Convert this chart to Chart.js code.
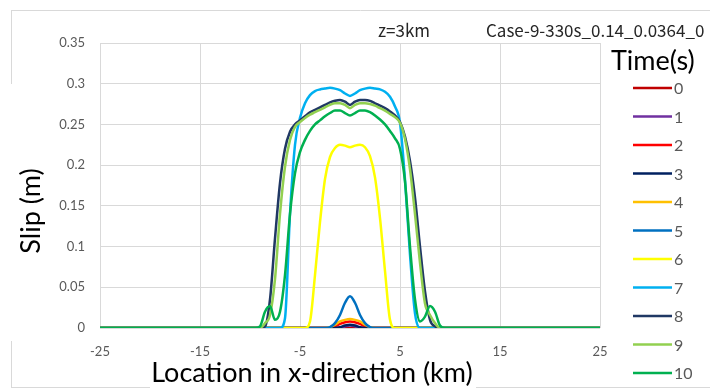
<!DOCTYPE html>
<html>
<head>
<meta charset="utf-8">
<script src="https://cdn.jsdelivr.net/npm/chart.js@4"></script>
<style>
body{margin:0;background:#fff;}
canvas{display:block;}
</style>
</head>
<body>
<canvas id="slipChart" width="710" height="391"></canvas>
<script>
// x positions (km) shared by all series
const xKm=[-25,-10,-9.5,-9,-8.5, -8,-7.5,-7,-6.5,-6, -5.5,-5,-4.5,-4,-3.5, -3,-2.5,-2,-1.5,-1, -0.5,0,0.5,1,1.5, 2,2.5,3,3.5,4, 4.5,5,5.5,6,6.5, 7,7.5,8,8.5,9, 9.5,10,25];

const xTicks=[-25,-15,-5,5,15,25];
const timeLabels=['0','1','2','3','4','5','6','7','8','9','10'];
const lineColors=['#C00000','#7030A0','#FF0000','#002060','#FFC000','#0070C0','#FFFF00','#00B0F0','#203864','#92D050','#00B050'];

// slip (m) per time step
const slip0=[0,0,0,0,0, 0,0,0,0,0, 0,0,0,0,0, 0,0,0,0,0, 0,0,0,0,0, 0,0,0,0,0, 0,0,0,0,0, 0,0,0,0,0, 0,0,0];
const slip1=[0,0,0,0,0, 0,0,0,0,0, 0,0,0,0,0, 0,0,0,0,0, 0.002,0.003,0.002,0,0, 0,0,0,0,0, 0,0,0,0,0, 0,0,0,0,0, 0,0,0];
const slip2=[0,0,0,0,0, 0,0,0,0,0, 0,0,0,0,0, 0,0,0,0.002,0.005, 0.007,0.008,0.007,0.005,0.002, 0,0,0,0,0, 0,0,0,0,0, 0,0,0,0,0, 0,0,0];
const slip3=[0,0,0,0,0, 0,0,0,0,0, 0,0,0,0,0, 0,0,0,0,0.001, 0.003,0.004,0.003,0.001,0, 0,0,0,0,0, 0,0,0,0,0, 0,0,0,0,0, 0,0,0];
const slip4=[0,0,0,0,0, 0,0,0,0,0, 0,0,0,0,0, 0,0,0.001,0.004,0.008, 0.010,0.011,0.010,0.008,0.004, 0.001,0,0,0,0, 0,0,0,0,0, 0,0,0,0,0, 0,0,0];
const slip5=[0,0,0,0,0, 0,0,0,0,0, 0,0,0,0,0, 0,0,0.001,0.006,0.016, 0.031,0.039,0.031,0.016,0.006, 0.001,0,0,0,0, 0,0,0,0,0, 0,0,0,0,0, 0,0,0];
const slip6=[0,0,0,0,0, 0,0,0,0,0, 0,0,0,0.008,0.065, 0.13,0.183,0.21,0.221,0.225, 0.224,0.222,0.224,0.225,0.222, 0.211,0.185,0.135,0.07,0.01, 0,0,0,0,0, 0,0,0,0,0, 0,0,0];
const slip7=[0,0,0,0,0, 0,0,0,0.012,0.14, 0.225,0.258,0.276,0.286,0.291, 0.293,0.294,0.295,0.294,0.292, 0.288,0.285,0.288,0.292,0.294, 0.295,0.294,0.293,0.29,0.284, 0.272,0.252,0.182,0.09,0.018, 0,0,0,0,0, 0,0,0];
const slip8=[0,0,0,0,0.002, 0.035,0.11,0.178,0.22,0.241, 0.25,0.255,0.26,0.265,0.268, 0.271,0.274,0.277,0.279,0.28, 0.278,0.274,0.278,0.28,0.28, 0.279,0.276,0.273,0.27,0.266, 0.261,0.253,0.235,0.205,0.16, 0.1,0.045,0.01,0.002,0, 0,0,0];
const slip9=[0,0,0,0,0.006, 0.016,0.06,0.14,0.198,0.231, 0.247,0.253,0.258,0.262,0.265, 0.268,0.271,0.274,0.276,0.276, 0.274,0.27,0.274,0.276,0.276, 0.275,0.273,0.27,0.267,0.263, 0.259,0.252,0.232,0.195,0.14, 0.08,0.03,0.016,0.006,0, 0,0,0];
const slip10=[0,0,0,0.002,0.02, 0.027,0.01,0.02,0.065,0.14, 0.19,0.216,0.231,0.242,0.25, 0.255,0.26,0.264,0.267,0.267, 0.264,0.261,0.264,0.267,0.267, 0.265,0.261,0.256,0.25,0.242, 0.233,0.22,0.18,0.1,0.035, 0.008,0.014,0.027,0.02,0.003, 0,0,0];

const allSlip=[slip0,slip1,slip2,slip3,slip4,slip5,slip6,slip7,slip8,slip9,slip10];

const datasets=allSlip.map((vals,i)=>({
label:timeLabels[i],
data:vals.map((v,j)=>({x:xKm[j],y:v})),
borderColor:lineColors[i],
backgroundColor:lineColors[i],
borderWidth:2.5,
pointRadius:0,
fill:false,
cubicInterpolationMode:'monotone',
order:10-i
}));

const FONT='Lato, "Noto Sans", sans-serif';

// faint outer frame, titles, header text and legend
const extrasPlugin={
id:'extras',
beforeDraw(chart){
const c=chart.ctx;
c.save();
c.strokeStyle='#d9d9d9';
c.lineWidth=1;
c.beginPath();
c.moveTo(11,10.5);c.lineTo(710,10.5);
c.moveTo(11.5,10);c.lineTo(11.5,84);
c.moveTo(11.5,341);c.lineTo(11.5,388);
c.moveTo(11,387.5);c.lineTo(150,387.5);
c.moveTo(476,387.5);c.lineTo(710,387.5);
c.stroke();
c.restore();
},
afterDraw(chart){
const c=chart.ctx;
c.save();
c.fillStyle='#000';
c.textBaseline='alphabetic';

c.font='27px '+FONT;
c.textAlign='center';
c.fillText('Location in x-direction (km)',312,382);

c.save();
c.translate(40,211);
c.rotate(-Math.PI/2);
c.fillText('Slip (m)',0,0);
c.restore();

c.font='17px "Noto Sans CJK JP", '+FONT;
c.textAlign='left';
c.fillStyle='#262626';
c.fillText('z=3km',378,37);
c.fillText('Case-9-330s_0.14_0.0364_0',486,37);

c.fillStyle='#000';
c.font='27px '+FONT;
c.fillText('Time(s)',611,70);

c.font='16px '+FONT;
c.fillStyle='#595959';
c.textBaseline='middle';
timeLabels.forEach((lab,i)=>{
const y=88+i*28.5;
c.strokeStyle=lineColors[i];
c.lineWidth=2.5;
c.beginPath();
c.moveTo(633,y);
c.lineTo(672,y);
c.stroke();
c.fillText(lab,674,y+1);
});
c.restore();
}
};

new Chart(document.getElementById('slipChart'),{
type:'line',
data:{datasets:datasets},
options:{
responsive:false,
animation:false,
layout:{padding:{left:0,top:43,right:110,bottom:0}},
plugins:{legend:{display:false},tooltip:{enabled:false}},
scales:{
x:{
type:'linear',
min:-25,
max:25,
afterBuildTicks:(s)=>{s.ticks=xTicks.map(v=>({value:v}));},
afterFit:(s)=>{s.height=63;},
grid:{color:'#d9d9d9',drawTicks:false},
border:{display:false},
ticks:{padding:16,color:'#595959',font:{family:FONT,size:13},autoSkip:false,maxRotation:0,callback:(v)=>String(v)}
},
y:{
min:0,
max:0.35,
afterFit:(s)=>{s.width=100;},
grid:{color:'#d9d9d9',drawTicks:false},
border:{color:'#d9d9d9'},
ticks:{stepSize:0.05,padding:15,color:'#595959',font:{family:FONT,size:13},callback:(v)=>String(+v.toFixed(2))}
}
}
},
plugins:[extrasPlugin]
});
</script>
</body>
</html>
